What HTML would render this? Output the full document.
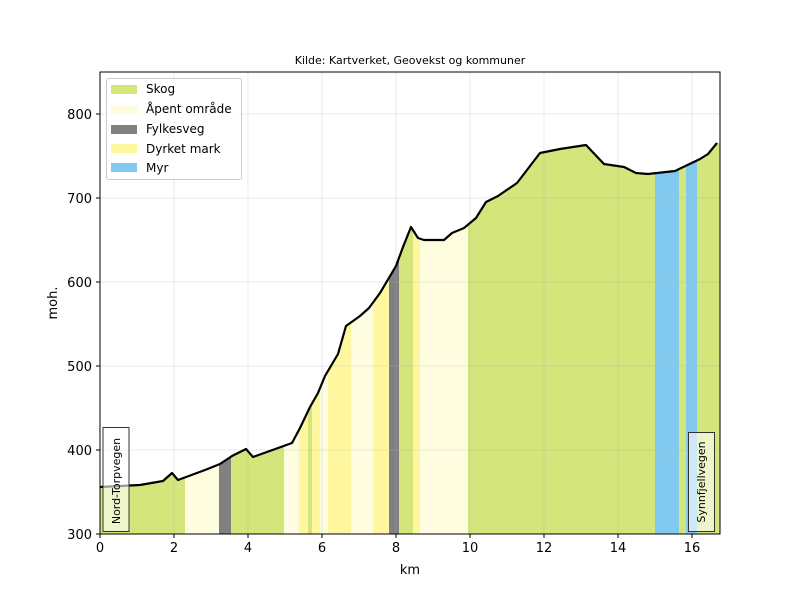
<!DOCTYPE html><html><head><style>body{margin:0;background:#fff}svg{display:block;font-family:"DejaVu Sans","Liberation Sans",sans-serif}</style></head><body>
<svg width="800" height="600" xmlns="http://www.w3.org/2000/svg">
<defs><clipPath id="c"><polygon points="100,534 100,487 120,486 140,485 163,481 172,473 178,480 205,470 220,464 232,456 246,449 253,457 292,443 300,428 310,407 318,393 325,376 338,354 346,326 360,316 369,308 380,293 396,266 403,247 411,227 418,238 424,240 444,240 452,233 464,228 476,218 486,202 498,196 517,183 540,153 560,149 586,145 604,164 624,167 636,173 648,174 675,171 700,159 708,154 717,143 720,143 720,534"/></clipPath></defs>
<text x="410" y="64" font-size="11" text-anchor="middle">Kilde: Kartverket, Geovekst og kommuner</text>
<g clip-path="url(#c)">
<rect x="100" y="72" width="85" height="462" fill="#d4e57b"/>
<rect x="185" y="72" width="34" height="462" fill="#fefde0"/>
<rect x="219" y="72" width="12" height="462" fill="#808080"/>
<rect x="231" y="72" width="53" height="462" fill="#d4e57b"/>
<rect x="284" y="72" width="15" height="462" fill="#fefde0"/>
<rect x="299" y="72" width="9" height="462" fill="#fef7a0"/>
<rect x="308" y="72" width="4" height="462" fill="#d4e57b"/>
<rect x="312" y="72" width="8" height="462" fill="#fef7a0"/>
<rect x="320" y="72" width="8" height="462" fill="#fefde0"/>
<rect x="328" y="72" width="23" height="462" fill="#fef7a0"/>
<rect x="351" y="72" width="22" height="462" fill="#fefde0"/>
<rect x="373" y="72" width="16" height="462" fill="#fef7a0"/>
<rect x="389" y="72" width="10" height="462" fill="#808080"/>
<rect x="399" y="72" width="14" height="462" fill="#d4e57b"/>
<rect x="413" y="72" width="7" height="462" fill="#fef7a0"/>
<rect x="420" y="72" width="48" height="462" fill="#fefde0"/>
<rect x="468" y="72" width="187" height="462" fill="#d4e57b"/>
<rect x="655" y="72" width="24" height="462" fill="#82c9ef"/>
<rect x="679" y="72" width="7" height="462" fill="#d4e57b"/>
<rect x="686" y="72" width="11" height="462" fill="#82c9ef"/>
<rect x="697" y="72" width="23" height="462" fill="#d4e57b"/>
</g>
<g stroke="#b0b0b0" stroke-opacity="0.35" stroke-width="0.8">
<line x1="174" y1="72" x2="174" y2="534"/><line x1="248" y1="72" x2="248" y2="534"/><line x1="322" y1="72" x2="322" y2="534"/><line x1="396" y1="72" x2="396" y2="534"/><line x1="470" y1="72" x2="470" y2="534"/><line x1="544" y1="72" x2="544" y2="534"/><line x1="618" y1="72" x2="618" y2="534"/><line x1="692" y1="72" x2="692" y2="534"/>
<line x1="100" y1="450" x2="720" y2="450"/><line x1="100" y1="366" x2="720" y2="366"/><line x1="100" y1="282" x2="720" y2="282"/><line x1="100" y1="198" x2="720" y2="198"/><line x1="100" y1="114" x2="720" y2="114"/>
</g>
<polyline fill="none" stroke="#000" stroke-width="2.2" stroke-linejoin="round" points="100,487 120,486 140,485 163,481 172,473 178,480 205,470 220,464 232,456 246,449 253,457 292,443 300,428 310,407 318,393 325,376 338,354 346,326 360,316 369,308 380,293 396,266 403,247 411,227 418,238 424,240 444,240 452,233 464,228 476,218 486,202 498,196 517,183 540,153 560,149 586,145 604,164 624,167 636,173 648,174 675,171 700,159 708,154 717,143"/>
<rect x="100" y="72" width="620" height="462" fill="none" stroke="#000" stroke-width="1"/>
<g stroke="#000"><line x1="100" y1="534" x2="100" y2="538"/><line x1="174" y1="534" x2="174" y2="538"/><line x1="248" y1="534" x2="248" y2="538"/><line x1="322" y1="534" x2="322" y2="538"/><line x1="396" y1="534" x2="396" y2="538"/><line x1="470" y1="534" x2="470" y2="538"/><line x1="544" y1="534" x2="544" y2="538"/><line x1="618" y1="534" x2="618" y2="538"/><line x1="692" y1="534" x2="692" y2="538"/>
<line x1="96" y1="534" x2="100" y2="534"/><line x1="96" y1="450" x2="100" y2="450"/><line x1="96" y1="366" x2="100" y2="366"/><line x1="96" y1="282" x2="100" y2="282"/><line x1="96" y1="198" x2="100" y2="198"/><line x1="96" y1="114" x2="100" y2="114"/></g>
<g font-size="13" text-anchor="middle"><text x="100" y="552">0</text><text x="174" y="552">2</text><text x="248" y="552">4</text><text x="322" y="552">6</text><text x="396" y="552">8</text><text x="470" y="552">10</text><text x="544" y="552">12</text><text x="618" y="552">14</text><text x="692" y="552">16</text>
<text x="410" y="574">km</text></g>
<g font-size="13" text-anchor="end"><text x="92" y="539">300</text><text x="92" y="455">400</text><text x="92" y="371">500</text><text x="92" y="287">600</text><text x="92" y="203">700</text><text x="92" y="119">800</text></g>
<text transform="translate(57,303) rotate(-90)" font-size="13" text-anchor="middle">moh.</text>
<rect x="106.5" y="78.5" width="135" height="101" rx="2" fill="#fff" fill-opacity="0.8" stroke="#ccc"/>
<g font-size="12"><rect x="111" y="85" width="26" height="9" fill="#d4e57b"/><text x="146" y="93">Skog</text>
<rect x="111" y="105" width="26" height="9" fill="#fefde0"/><text x="146" y="113">Åpent område</text>
<rect x="111" y="125" width="26" height="9" fill="#808080"/><text x="146" y="133">Fylkesveg</text>
<rect x="111" y="144" width="26" height="9" fill="#fef7a0"/><text x="146" y="153">Dyrket mark</text>
<rect x="111" y="163" width="26" height="9" fill="#82c9ef"/><text x="146" y="172">Myr</text></g>
<rect x="103" y="427.5" width="26" height="104" fill="#fff" fill-opacity="0.6" stroke="#333"/>
<text transform="translate(120,481) rotate(-90)" font-size="11" text-anchor="middle">Nord-Torpvegen</text>
<rect x="688.5" y="432.5" width="26" height="99" fill="#fff" fill-opacity="0.6" stroke="#333"/>
<text transform="translate(705,482) rotate(-90)" font-size="11" text-anchor="middle">Synnfjellvegen</text>
</svg></body></html>
